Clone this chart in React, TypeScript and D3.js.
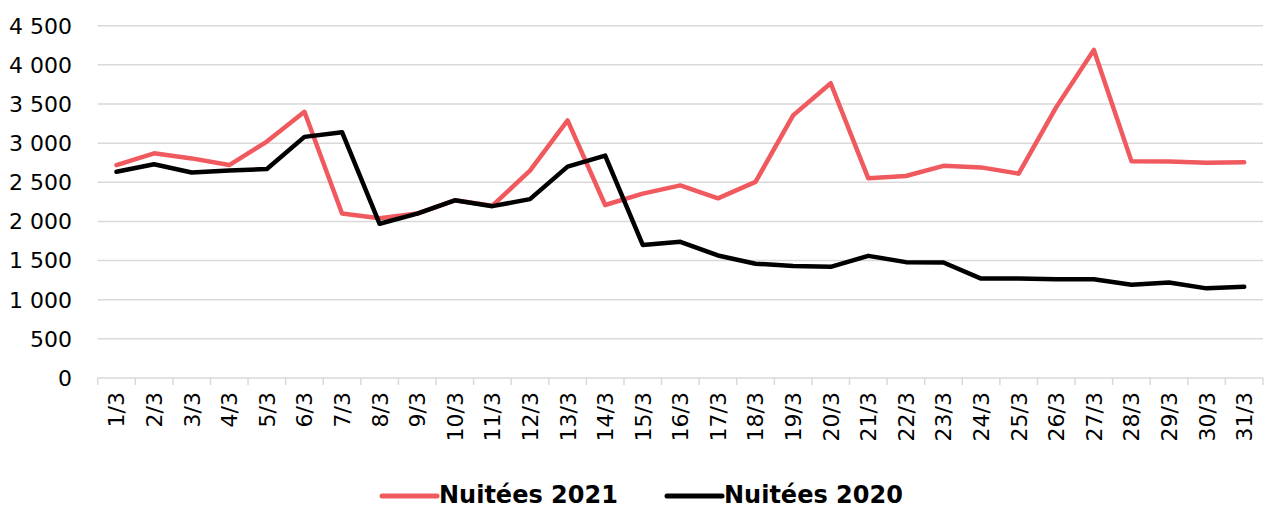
import React from "react";
import * as d3 from "d3";

const categories = ["1/3","2/3","3/3","4/3","5/3","6/3","7/3","8/3","9/3","10/3","11/3","12/3","13/3","14/3","15/3","16/3","17/3","18/3","19/3","20/3","21/3","22/3","23/3","24/3","25/3","26/3","27/3","28/3","29/3","30/3","31/3"];
const nuitees2021 = [2720, 2870, 2805, 2720, 3020, 3400, 2100, 2040, 2100, 2270, 2200, 2650, 3290, 2210, 2355, 2460, 2295, 2505, 3355, 3765, 2550, 2580, 2710, 2690, 2610, 3460, 4190, 2770, 2765, 2750, 2755];
const nuitees2020 = [2635, 2730, 2625, 2650, 2670, 3080, 3140, 1970, 2100, 2270, 2195, 2285, 2700, 2840, 1700, 1740, 1565, 1460, 1430, 1420, 1560, 1480, 1475, 1270, 1272, 1260, 1262, 1190, 1220, 1145, 1165];
const yTicks = [0, 500, 1000, 1500, 2000, 2500, 3000, 3500, 4000, 4500];
const seriesNames = ["Nuitées 2021", "Nuitées 2020"];
const seriesColors = ["#F05A5E", "#000000"];

const W = 1269, H = 509;
const FONT = "'Century Gothic', 'URW Gothic', 'DejaVu Sans', sans-serif";

export default function App() {
  const x = d3.scaleBand<string>().domain(categories).range([97.7, 1263]).padding(0);
  const y = d3.scaleLinear().domain([0, 4500]).range([378, 25.7]);
  const cx = (c: string) => (x(c) as number) + x.bandwidth() / 2;
  const fmt = (v: number) => d3.format(",")(v).replace(/,/g, " ");
  const line = d3.line<number>().x((_, i) => cx(categories[i])).y((v) => y(v));
  const series = [nuitees2021, nuitees2020];
  const boundaries = categories.map((c) => x(c) as number).concat([1263]);
  const legendX = [382, 667];

  return (
    <svg width={W} height={H} style={{ position: "absolute", left: 0, top: 0, background: "#fff" }} fontFamily={FONT}>
      {yTicks.map((t) => (
        <g key={t}>
          {t > 0 && <line x1={97.7} x2={1263} y1={y(t)} y2={y(t)} stroke="#d9d9d9" strokeWidth={1.5} />}
          <text x={72} y={y(t)} dy="0.36em" textAnchor="end" fontSize={22} fill="#000">{fmt(t)}</text>
        </g>
      ))}
      <line x1={97.7} x2={1263} y1={y(0)} y2={y(0)} stroke="#d9d9d9" strokeWidth={1.5} />
      {boundaries.map((b, i) => (
        <line key={i} x1={b} x2={b} y1={y(0)} y2={y(0) + 7} stroke="#d9d9d9" strokeWidth={1.5} />
      ))}
      {categories.map((c) => (
        <text key={c} transform={`translate(${cx(c)},392) rotate(-90)`} textAnchor="end" dy="0.36em" fontSize={22} fill="#000">{c}</text>
      ))}
      {series.map((s, i) => (
        <path key={i} d={line(s) || ""} fill="none" stroke={seriesColors[i]} strokeWidth={4.5} strokeLinejoin="round" strokeLinecap="round" />
      ))}
      {seriesNames.map((n, i) => {
        const lx = legendX[i];
        return (
          <g key={n}>
            <line x1={lx} x2={lx + 55} y1={496} y2={496} stroke={seriesColors[i]} strokeWidth={5} strokeLinecap="round" />
            <text x={lx + 57} y={503} fontSize={24} fontWeight="bold" fill="#000">{n}</text>
          </g>
        );
      })}
    </svg>
  );
}
